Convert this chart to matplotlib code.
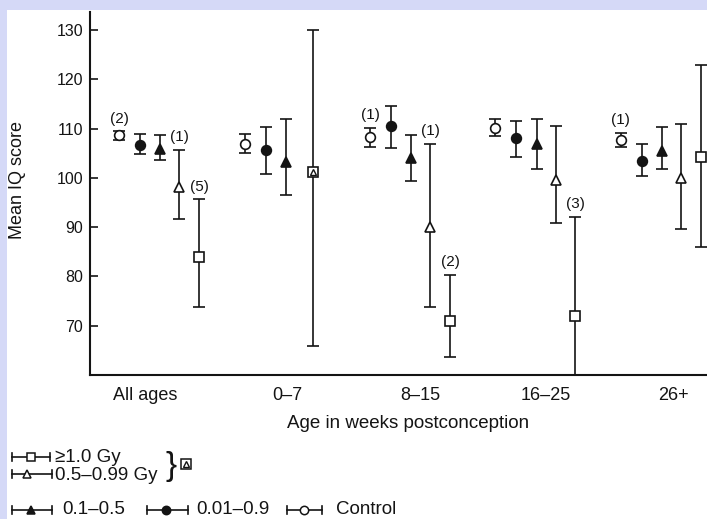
import numpy as np
import matplotlib
matplotlib.use('Agg')
import matplotlib.pyplot as plt
from matplotlib.lines import Line2D
from matplotlib.patches import Rectangle

plt.rcParams['font.family'] = ['Liberation Sans', 'DejaVu Sans']

# Data (mean IQ with error bar ends)
groups = ['All ages', '0–7', '8–15', '16–25', '26+']

control_mean = [108.7, 107.0, 108.4, 110.2, 107.7]
control_lo = [107.7, 105.0, 106.3, 108.5, 106.3]
control_hi = [109.5, 109.0, 110.2, 111.9, 109.2]

dose_001_mean = [106.7, 105.7, 110.6, 108.2, 103.4]
dose_001_lo = [104.8, 100.8, 106.1, 104.3, 100.4]
dose_001_hi = [109.0, 110.4, 114.6, 111.6, 106.8]

dose_01_mean = [105.9, 103.3, 104.0, 106.9, 105.5]
dose_01_lo = [103.6, 96.5, 99.4, 101.9, 101.9]
dose_01_hi = [108.7, 111.9, 108.8, 111.9, 110.3]

dose_05_mean = [98.2, np.nan, 90.1, 99.6, 99.9]
dose_05_lo = [91.6, np.nan, 73.8, 90.9, 89.6]
dose_05_hi = [105.7, np.nan, 107.0, 110.5, 110.9]

dose_1_mean = [84.0, np.nan, 71.0, 72.0, 104.3]
dose_1_lo = [73.9, np.nan, 63.7, 55.0, 86.0]
dose_1_hi = [95.7, np.nan, 80.3, 92.1, 123.0]

# combined >=0.5 Gy group for 0-7 weeks
combined_group = 1
combined_mean = 101.3
combined_lo = 65.8
combined_hi = 130.0

# case counts written above some bars: (group, series, text)
case_counts = [
    (0, 'control', '(2)'),
    (0, 'dose_05', '(1)'),
    (0, 'dose_1', '(5)'),
    (2, 'control', '(1)'),
    (2, 'dose_05', '(1)'),
    (2, 'dose_1', '(2)'),
    (3, 'dose_1', '(3)'),
    (4, 'control', '(1)'),
]

W, H = 707, 519
LAV = '#d5d9f7'
INK = '#141414'

fig = plt.figure(figsize=(W / 100, H / 100), dpi=100)
fig.patch.set_facecolor(LAV)
fig.add_artist(Rectangle((7 / W, 0), 1, 1 - 10 / H, transform=fig.transFigure,
                         facecolor='white', edgecolor='none', zorder=-10))

ax = fig.add_axes([90 / W, (H - 375) / H, 650 / W, 363 / H])
ax.set_facecolor('none')

x = np.arange(len(groups))
series = {
    'control': (control_mean, control_lo, control_hi, -0.327, 'o', 'white'),
    'dose_001': (dose_001_mean, dose_001_lo, dose_001_hi, -0.16, 'o', INK),
    'dose_01': (dose_01_mean, dose_01_lo, dose_01_hi, 0.0, '^', INK),
    'dose_05': (dose_05_mean, dose_05_lo, dose_05_hi, 0.152, '^', 'white'),
    'dose_1': (dose_1_mean, dose_1_lo, dose_1_hi, 0.311, 's', 'white'),
}

eb_kw = dict(ls='none', ecolor=INK, elinewidth=1.2, capsize=4.5, capthick=1.2,
             mec=INK, mew=1.2, ms=7, zorder=3)

for name, (m, lo, hi, off, mk, fc) in series.items():
    m = np.array(m)
    err = np.vstack([m - np.array(lo), np.array(hi) - m])
    ax.errorbar(x + off, m, yerr=err, marker=mk, mfc=fc, **eb_kw)

# combined >=0.5 Gy marker (square with triangle inside)
xc = combined_group + 0.22
ax.errorbar([xc], [combined_mean],
            yerr=[[combined_mean - combined_lo], [combined_hi - combined_mean]],
            marker='s', mfc='white', **eb_kw)
ax.plot([xc], [combined_mean], marker='^', ms=4, mfc='white', mec=INK, mew=1.0, zorder=4)

for g, name, txt in case_counts:
    off = series[name][3]
    top = series[name][2][g]
    ax.annotate(txt, (g + off, top), xytext=(0, 4), textcoords='offset points',
                ha='center', va='bottom', fontsize=11, color=INK)

ax.set_xlim((90 - 160.3) / 125.4, (740 - 160.3) / 125.4)
ax.set_ylim(60, 133.7)
ax.set_yticks(np.arange(70, 131, 10))
# the scanned labels sit a little off the group centres
label_shift = [-0.12, 0.01, 0.07, 0.07, 0.09]
ax.set_xticks(x + np.array(label_shift))
ax.set_xticklabels(groups, fontsize=13, color=INK)
ax.tick_params(axis='x', length=0, pad=9)
ax.tick_params(axis='y', direction='in', length=6, width=1.2, labelsize=11.5,
               colors=INK, pad=5)

for s in ['top', 'right']:
    ax.spines[s].set_visible(False)
for s in ['left', 'bottom']:
    ax.spines[s].set_linewidth(1.5)
    ax.spines[s].set_color(INK)

ax.set_ylabel('Mean IQ score', fontsize=13, color=INK, va='center')
ax.yaxis.set_label_coords((18 - 90) / 650, (375 - 180) / 363)
ax.set_xlabel('Age in weeks postconception', fontsize=13.5, color=INK, va='center')
ax.xaxis.set_label_coords((408 - 90) / 650, (375 - 424) / 363)


# legend drawn below the axes, in figure pixels
def fx(px):
    return px / W


def fy(py):
    return 1 - py / H


def legend_key(x0, x1, xm, y, mk, fc, ms=6):
    fig.add_artist(Line2D([fx(x0), fx(x1)], [fy(y), fy(y)], color=INK, lw=1.2,
                          transform=fig.transFigure))
    for xe in (x0, x1):
        fig.add_artist(Line2D([fx(xe), fx(xe)], [fy(y - 4), fy(y + 4)], color=INK,
                              lw=1.2, transform=fig.transFigure))
    fig.add_artist(Line2D([fx(xm)], [fy(y)], marker=mk, ms=ms, mfc=fc, mec=INK,
                          mew=1.1, ls='none', transform=fig.transFigure))


legend_key(12, 50, 31, 457, 's', 'white')
fig.text(fx(55), fy(457), '≥1.0 Gy', fontsize=13.5, va='center', color=INK)
legend_key(12, 52, 27, 474, '^', 'white')
fig.text(fx(55), fy(475), '0.5–0.99 Gy', fontsize=13.5, va='center', color=INK)
fig.text(fx(165), fy(466), '}', fontsize=24, va='center', color=INK,
         fontweight='light')
fig.add_artist(Line2D([fx(186)], [fy(464)], marker='s', ms=7, mfc='white', mec=INK,
                      mew=1.1, ls='none', transform=fig.transFigure))
fig.add_artist(Line2D([fx(186)], [fy(464)], marker='^', ms=4, mfc='white', mec=INK,
                      mew=1.0, ls='none', transform=fig.transFigure))

legend_key(12, 52, 31, 510, '^', INK)
fig.text(fx(62), fy(510), '0.1–0.5', fontsize=13.5, va='center', color=INK)
legend_key(147, 188, 166, 510, 'o', INK)
fig.text(fx(196), fy(510), '0.01–0.9', fontsize=13.5, va='center', color=INK)
legend_key(287, 322, 304, 510, 'o', 'white')
fig.text(fx(336), fy(510), 'Control', fontsize=13.5, va='center', color=INK)

fig.savefig('out.png', dpi=100, facecolor=fig.get_facecolor())
